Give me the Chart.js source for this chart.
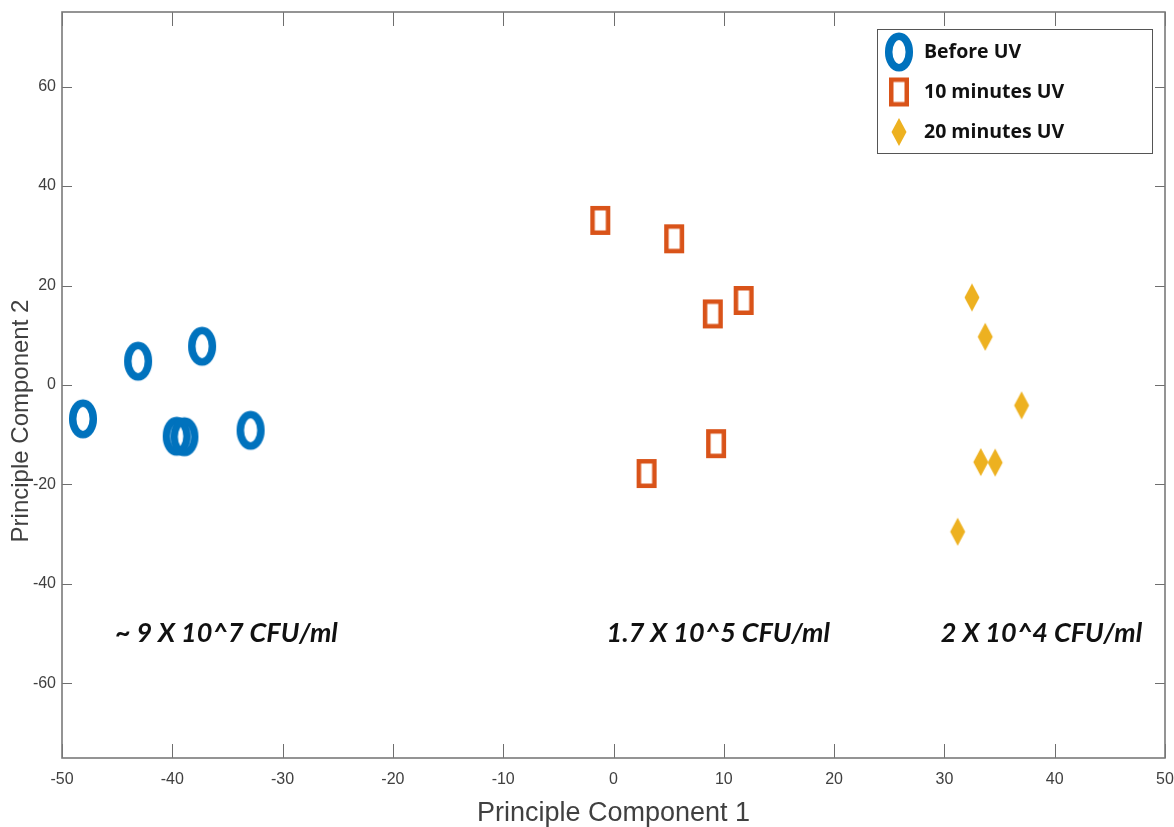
<!DOCTYPE html>
<html>
<head>
<meta charset="utf-8">
<script src="https://cdn.jsdelivr.net/npm/chart.js@4/dist/chart.umd.min.js"></script>
<style>
    html, body { margin: 0; padding: 0; background: #fff; }
    #wrap { width: 1174px; height: 827px; position: relative; }
</style>
</head>
<body>
<div id="wrap"><canvas id="cv_pca"></canvas></div>
<script>
// PCA scores per treatment group
const beforeX = [-48.1, -43.1, -37.3, -39.6, -38.9, -32.9];
const beforeY = [-6.8, 4.8, 7.8, -10.3, -10.4, -9.1];
const tenMinX = [-1.2, 5.5, 9.0, 11.8, 9.3, 3.0];
const tenMinY = [33.1, 29.4, 14.3, 17.0, -11.8, -17.8];
const twentyMinX = [32.5, 33.7, 37.0, 33.3, 34.6, 31.2];
const twentyMinY = [17.6, 9.7, -4.1, -15.5, -15.6, -29.5];

const seriesLabels = ['Before UV', '10 minutes UV', '20 minutes UV'];

const xTickValues = [-50, -40, -30, -20, -10, 0, 10, 20, 30, 40, 50];
const yTickValues = [-60, -40, -20, 0, 20, 40, 60];

// cell counts written under each cluster, anchored at (x, y) in data units
const countLabels = ['~ 9 X 10^7 CFU/ml', '1.7 X 10^5 CFU/ml', '2 X 10^4 CFU/ml'];
const countLabelX = [-35.1, 9.5, 38.8];
const countLabelY = [-51.6, -51.6, -51.6];

const axisTitleX = 'Principle Component 1';
const axisTitleY = 'Principle Component 2';

const tickFont = '"Liberation Sans Narrow", "Arial Narrow", "Liberation Sans", sans-serif';
const axisColor = '#404040';

let chart_pca;

// marker sprites, also reused in the legend box
const makeRing = () => {
    const c = document.createElement('canvas');
    c.width = 32; c.height = 42;
    const ctx = c.getContext('2d');
    ctx.strokeStyle = '#0072BD';
    ctx.lineWidth = 7.5;
    ctx.beginPath();
    ctx.ellipse(16, 21, 10.3, 15.8, 0, 0, Math.PI * 2);
    ctx.stroke();
    return c;
}

const makeSquare = () => {
    const c = document.createElement('canvas');
    c.width = 24; c.height = 33;
    const ctx = c.getContext('2d');
    ctx.strokeStyle = '#D95319';
    ctx.lineWidth = 4.5;
    ctx.strokeRect(4.25, 4.25, 15.5, 24.5);
    return c;
}

const makeDiamond = () => {
    const c = document.createElement('canvas');
    c.width = 18; c.height = 30;
    const ctx = c.getContext('2d');
    ctx.fillStyle = '#EDB120';
    ctx.beginPath();
    ctx.moveTo(9, 1);
    ctx.lineTo(16.5, 15);
    ctx.lineTo(9, 29);
    ctx.lineTo(1.5, 15);
    ctx.closePath();
    ctx.fill();
    return c;
}

const toPoints = (xs, ys) => xs.map((x, i) => ({x: x, y: ys[i]}));

// box frame with inward ticks on all four sides
const boxTicks = {
    id: 'boxTicks',
    afterDatasetsDraw(chart) {
        const {ctx, chartArea: a, scales} = chart;
        ctx.save();
        ctx.strokeStyle = '#6e6e6e';
        ctx.lineWidth = 1;
        ctx.beginPath();
        scales.x.ticks.forEach(t => {
            const px = Math.round(scales.x.getPixelForValue(t.value)) + 0.5;
            ctx.moveTo(px, a.bottom); ctx.lineTo(px, a.bottom - 14);
            ctx.moveTo(px, a.top); ctx.lineTo(px, a.top + 14);
        });
        scales.y.ticks.forEach(t => {
            const py = Math.round(scales.y.getPixelForValue(t.value)) + 0.5;
            ctx.moveTo(a.left, py); ctx.lineTo(a.left + 10, py);
            ctx.moveTo(a.right, py); ctx.lineTo(a.right - 10, py);
        });
        ctx.stroke();
        ctx.strokeStyle = '#7a7a7a';
        ctx.lineWidth = 1.6;
        ctx.strokeRect(a.left, a.top, a.right - a.left, a.bottom - a.top);
        ctx.restore();
    }
}

const axisTitles = {
    id: 'axisTitles',
    afterDraw(chart) {
        const {ctx, chartArea: a} = chart;
        ctx.save();
        ctx.fillStyle = axisColor;
        ctx.font = '27px ' + tickFont;
        ctx.textAlign = 'center';
        ctx.textBaseline = 'alphabetic';
        ctx.fillText(axisTitleX, (a.left + a.right) / 2, 821);
        ctx.translate(28, 421);
        ctx.rotate(-Math.PI / 2);
        ctx.font = '24px "Liberation Sans", Arial, sans-serif';
        ctx.fillText(axisTitleY, 0, 0);
        ctx.restore();
    }
}

const countText = {
    id: 'countText',
    afterDatasetsDraw(chart) {
        const {ctx, scales} = chart;
        ctx.save();
        ctx.fillStyle = '#111';
        ctx.font = 'italic bold 27px Lato, "Open Sans", sans-serif';
        ctx.textAlign = 'center';
        ctx.textBaseline = 'alphabetic';
        countLabels.forEach((txt, i) => {
            ctx.fillText(txt, scales.x.getPixelForValue(countLabelX[i]), scales.y.getPixelForValue(countLabelY[i]));
        });
        ctx.restore();
    }
}

// legend drawn inside the plot, top right corner
const boxLegend = {
    id: 'boxLegend',
    afterDraw(chart) {
        const {ctx, chartArea: a} = chart;
        const w = 275, h = 124;
        const left = a.right - 13 - w;
        const top = a.top + 17;
        ctx.save();
        ctx.fillStyle = '#fff';
        ctx.fillRect(left, top, w, h);
        ctx.strokeStyle = '#555';
        ctx.lineWidth = 1;
        ctx.strokeRect(left + 0.5, top + 0.5, w, h);
        ctx.font = 'bold 19.5px "Open Sans", sans-serif';
        ctx.fillStyle = '#111';
        ctx.textBaseline = 'middle';
        chart.data.datasets.forEach((ds, i) => {
            const cy = top + 23 + i * 40;
            const img = ds.pointStyle;
            ctx.drawImage(img, left + 22 - img.width / 2, cy - img.height / 2);
            ctx.fillText(ds.label, left + 47, cy);
        });
        ctx.restore();
    }
}

const init_chart = () => {
    const ctxPca = document.getElementById('cv_pca').getContext('2d');
    if (chart_pca !== undefined) chart_pca.destroy();
    chart_pca = new Chart(ctxPca, {
        type: 'scatter',
        data: {
            datasets: [
                {
                    label: seriesLabels[0],
                    data: toPoints(beforeX, beforeY),
                    pointStyle: makeRing(),
                    pointRadius: 12
                },
                {
                    label: seriesLabels[1],
                    data: toPoints(tenMinX, tenMinY),
                    pointStyle: makeSquare(),
                    pointRadius: 10
                },
                {
                    label: seriesLabels[2],
                    data: toPoints(twentyMinX, twentyMinY),
                    pointStyle: makeDiamond(),
                    pointRadius: 9
                }
            ]
        },
        options: {
            responsive: true,
            maintainAspectRatio: false,
            animation: false,
            layout: {
                autoPadding: false,
                padding: {top: 12, right: 9, left: 0, bottom: 0}
            },
            plugins: {
                legend: {display: false},
                tooltip: {enabled: false}
            },
            scales: {
                x: {
                    type: 'linear',
                    min: -50,
                    max: 50,
                    afterBuildTicks: (scale) => {
                        scale.ticks = xTickValues.map(v => ({value: v}));
                    },
                    afterFit: (scale) => {
                        scale.height = 69;
                        scale.paddingLeft = 0;
                        scale.paddingRight = 0;
                    },
                    ticks: {
                        color: axisColor,
                        padding: 12,
                        maxRotation: 0,
                        font: {family: tickFont, size: 16}
                    },
                    grid: {display: false, drawTicks: false},
                    border: {display: false}
                },
                y: {
                    type: 'linear',
                    min: -75,
                    max: 75,
                    afterBuildTicks: (scale) => {
                        scale.ticks = yTickValues.map(v => ({value: v}));
                    },
                    afterFit: (scale) => {
                        scale.width = 62;
                        scale.paddingTop = 0;
                        scale.paddingBottom = 0;
                    },
                    ticks: {
                        color: axisColor,
                        padding: 6,
                        font: {family: tickFont, size: 16}
                    },
                    grid: {display: false, drawTicks: false},
                    border: {display: false}
                }
            }
        },
        plugins: [countText, boxTicks, boxLegend, axisTitles]
    });
}

const fontList = [
    '16px "Liberation Sans Narrow"',
    '24px "Liberation Sans"',
    'italic bold 27px Lato',
    'bold 19px "Open Sans"'
];
Promise.all(fontList.map(f => document.fonts.load(f).catch(() => null)))
    .then(init_chart, init_chart);
</script>
</body>
</html>
